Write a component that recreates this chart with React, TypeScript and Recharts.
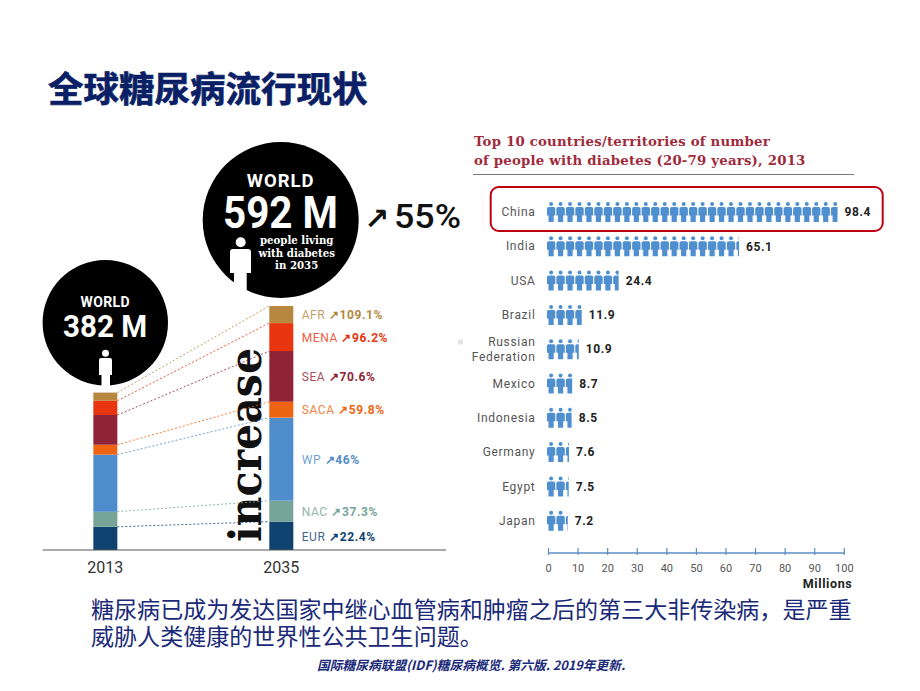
import { BarChart, Bar, XAxis, YAxis, ReferenceLine, LabelList } from "recharts";

// stacked regions, 2013 and 2035 (millions), bottom of the stack first
const years = [2013, 2035];
const regions = ["EUR", "NAC", "WP", "SACA", "SEA", "MENA", "AFR"];
const values2013 = [56.3, 36.8, 138.2, 24.1, 72.1, 34.6, 19.8];
const values2035 = [68.9, 50.4, 201.8, 38.5, 123, 67.9, 41.4];
const regionColors = ["#0f426f", "#76a598", "#4f8ccb", "#ee6410", "#8f2437", "#e8350f", "#b5873f"];
const regionPcts = ["22.4%", "37.3%", "46%", "59.8%", "70.6%", "96.2%", "109.1%"];
const regionLabelY = [536.5, 512, 460, 410, 377, 338, 315];

const countries = ["China", "India", "USA", "Brazil", "Russian Federation", "Mexico", "Indonesia", "Germany", "Egypt", "Japan"];
const diabetes = [98.4, 65.1, 24.4, 11.9, 10.9, 8.7, 8.5, 7.6, 7.5, 7.2];
const millionTicks = [0, 10, 20, 30, 40, 50, 60, 70, 80, 90, 100];

const stackData = years.map((year, i) => {
  const row: Record<string, number> = { year };
  const vals = i === 0 ? values2013 : values2035;
  regions.forEach((r, j) => (row[r] = vals[j]));
  return row;
});
const countryData = countries.map((country, i) => ({ country, value: diabetes[i] }));

const cumulate = (vals: number[], n: number) => vals.slice(0, n + 1).reduce((a, b) => a + b, 0);

const NAVY = "#0b1f66";
const SANS = "Roboto, sans-serif";
const CJK = "'Noto Sans CJK SC', sans-serif";

const PERSON_W = 9.47;

function PersonBar(props: any) {
  const { x, y, width, height, index } = props;
  const left = x - 2;
  const n = Math.ceil(width / PERSON_W);
  const id = `person-clip-${index}`;
  const people = [];
  for (let i = 0; i < n; i++) {
    const px = left + i * PERSON_W;
    people.push(
      <g key={i} transform={`translate(${px},${y})`}>
        <circle cx={4.6} cy={2} r={2} />
        <path d="M2.2 5H7A1.8 1.8 0 0 1 8.8 6.8V13.5H7.2V20H2V13.5H0.4V6.8A1.8 1.8 0 0 1 2.2 5Z" />
      </g>
    );
  }
  return (
    <g fill="#4f8fd0">
      <defs>
        <clipPath id={id}>
          <rect x={left} y={y - 1} width={width} height={height + 2} />
        </clipPath>
      </defs>
      <g clipPath={`url(#${id})`}>{people}</g>
    </g>
  );
}

function CountryTick(props: any) {
  const { x, y, payload } = props;
  const words = payload.value === "Russian Federation" ? ["Russian", "Federation"] : [payload.value];
  return (
    <text x={x} y={y} textAnchor="end" fontFamily={SANS} fontSize={12} letterSpacing={0.7} fill="#555">
      {words.map((w: string, i: number) => (
        <tspan key={w} x={x} dy={words.length > 1 ? (i === 0 ? -3 : 15) : 4}>
          {w}
        </tspan>
      ))}
    </text>
  );
}

function MillionTick(props: any) {
  const { x, y, payload } = props;
  return (
    <g>
      <line x1={x} x2={x} y1={y - 7} y2={y} stroke="#5b8fc4" strokeWidth={1.2} />
      <text x={x} y={y + 17} textAnchor="middle" fontFamily={SANS} fontSize={11} fill="#555">
        {payload.value}
      </text>
    </g>
  );
}

function YearTick(props: any) {
  const { x, y, payload } = props;
  return (
    <text x={x} y={y + 21} textAnchor="middle" fontFamily={SANS} fontSize={16} fill="#333">
      {payload.value}
    </text>
  );
}

function Annotations() {
  return (
    <svg width={920} height={691} style={{ position: "absolute", left: 0, top: 0 }}>
      <text x={48} y={102} fontFamily={CJK} fontWeight={700} fontSize={35.5} fill={NAVY} stroke={NAVY} strokeWidth={0.7}>
        全球糖尿病流行现状
      </text>

      <circle cx={280.7} cy={220} r={78} fill="#000" />
      <text x={280.7} y={187} textAnchor="middle" fontFamily={SANS} fontWeight={700} fontSize={18.5} letterSpacing={1} fill="#fff">
        WORLD
      </text>
      <text x={223} y={228} textLength={115} lengthAdjust="spacingAndGlyphs" fontFamily={SANS} fontWeight={700} fontSize={44} fill="#fff">
        592 M
      </text>
      <g fill="#fff">
        <circle cx={240.7} cy={242.3} r={5} />
        <path d="M233 249H248A3 3 0 0 1 251 252V273H246.7V293H234V273H230V252A3 3 0 0 1 233 249Z" />
      </g>
      <g textAnchor="middle" fontFamily="'DejaVu Serif', serif" fontWeight={700} fontSize={10.2} fill="#fff">
        <text x={296.7} y={244}>people living</text>
        <text x={296.7} y={257}>with diabetes</text>
        <text x={296.7} y={269}>in 2035</text>
      </g>
      <text x={364} y={229} fontFamily="'DejaVu Sans', sans-serif" fontWeight={700} fontSize={30} fill="#111">
        ↗
      </text>
      <text x={394} y={228} textLength={67} lengthAdjust="spacingAndGlyphs" fontFamily={SANS} fontWeight={500} fontSize={33} fill="#111">
        55%
      </text>

      <circle cx={105.3} cy={322.7} r={62.7} fill="#000" />
      <text x={105.3} y={306.7} textAnchor="middle" fontFamily={SANS} fontWeight={700} fontSize={14} letterSpacing={0.4} fill="#fff">
        WORLD
      </text>
      <text x={63} y={336.7} textLength={84} lengthAdjust="spacingAndGlyphs" fontFamily={SANS} fontWeight={700} fontSize={32} fill="#fff">
        382 M
      </text>
      <g fill="#fff">
        <circle cx={105.5} cy={353.3} r={3.5} />
        <path d="M101 358H110A2 2 0 0 1 112 360V375H110V392.5H101.5V375H99V360A2 2 0 0 1 101 358Z" />
      </g>

      <text
        transform="translate(261,542) rotate(-90)"
        textLength={194}
        lengthAdjust="spacingAndGlyphs"
        fontFamily="'DejaVu Serif', serif"
        fontWeight={700}
        fontSize={44}
        fill="#111"
      >
        increase
      </text>

      {regions.map((r, i) => (
        <text key={r} x={301.7} y={regionLabelY[i] + 4} fontFamily={SANS} fontSize={12} letterSpacing={0.6} fill={regionColors[i]}>
          <tspan opacity={0.8}>{r} </tspan>
          <tspan fontWeight={700}>↗{regionPcts[i]}</tspan>
        </text>
      ))}

      <rect x={458} y={339.5} width={5} height={5} fill="#e4e4e4" />

      <g fontFamily="'DejaVu Serif', serif" fontWeight={700} fontSize={13.3} letterSpacing={0.2} fill="#9e2a3c">
        <text x={474} y={146}>Top 10 countries/territories of number</text>
        <text x={474} y={165}>of people with diabetes (20-79 years), 2013</text>
      </g>
      <line x1={473} x2={854} y1={174.5} y2={174.5} stroke="#777" strokeWidth={1} />
      <rect x={490.7} y={187} width={392} height={44} rx={8} fill="none" stroke="#c00010" strokeWidth={2} />

      <g fontFamily={CJK} fontSize={23.06} fill="#1a2a78">
        <text x={91} y={618}>糖尿病已成为发达国家中继心血管病和肿瘤之后的第三大非传染病，是严重</text>
        <text x={91} y={645}>威胁人类健康的世界性公共卫生问题。</text>
      </g>
      <text x={317} y={670} fontFamily={CJK} fontWeight={700} fontStyle="italic" fontSize={12.75} fill="#1a2a78">
        国际糖尿病联盟(IDF)糖尿病概览. 第六版. 2019年更新.
      </text>
    </svg>
  );
}

export default function App() {
  return (
    <div style={{ position: "absolute", left: 0, top: 0, width: 920, height: 691, overflow: "hidden", background: "#fff" }}>
      <Annotations />

      <div style={{ position: "absolute", left: 0, top: 300 }}>
        <BarChart width={460} height={290} data={stackData} margin={{ top: 6, right: 14, bottom: 10, left: 42.7 }}>
          <XAxis
            dataKey="year"
            type="number"
            domain={[2005.17, 2055.59]}
            ticks={years}
            tick={YearTick}
            tickLine={false}
            tickSize={0}
            height={30}
            axisLine={{ stroke: "#555", strokeWidth: 1.2 }}
          />
          <YAxis hide domain={[0, 592]} />
          {regions.map((r, i) => (
            <ReferenceLine
              key={r}
              segment={[
                { x: 2014.5, y: cumulate(values2013, i) },
                { x: 2033.5, y: cumulate(values2035, i) },
              ]}
              stroke={regionColors[i]}
              strokeDasharray="2 2"
              strokeWidth={1}
              strokeOpacity={0.8}
              ifOverflow="visible"
            />
          ))}
          {regions.map((r, i) => (
            <Bar key={r} dataKey={r} stackId="world" fill={regionColors[i]} barSize={24} isAnimationActive={false} />
          ))}
        </BarChart>
      </div>

      <div style={{ position: "absolute", left: 470, top: 125 }}>
        <BarChart
          layout="vertical"
          width={420}
          height={480}
          data={countryData}
          margin={{ top: 70, right: 45.7, bottom: 22, left: 0.5 }}
        >
          <XAxis
            type="number"
            domain={[0, 100]}
            ticks={millionTicks}
            interval={0}
            tick={MillionTick}
            tickLine={false}
            tickSize={0}
            height={30}
            axisLine={{ stroke: "#5b8fc4", strokeWidth: 1.4 }}
            label={{
              value: "Millions",
              position: "insideBottomRight",
              offset: -5,
              dx: 3,
              fontFamily: SANS,
              fontWeight: 700,
              fontSize: 12.5,
              letterSpacing: 0.6,
              fill: "#222",
            }}
          />
          <YAxis
            type="category"
            dataKey="country"
            width={78}
            tick={CountryTick}
            tickLine={false}
            tickSize={0}
            tickMargin={13}
            axisLine={false}
            interval={0}
            padding={{ top: 0, bottom: 15 }}
          />
          <Bar dataKey="value" barSize={20} shape={PersonBar} isAnimationActive={false}>
            <LabelList
              dataKey="value"
              position="right"
              offset={5}
              formatter={(v: number) => v.toFixed(1)}
              fontFamily={SANS}
              fontWeight={700}
              fontSize={12}
              letterSpacing={0.6}
              fill="#222"
            />
          </Bar>
        </BarChart>
      </div>
    </div>
  );
}
